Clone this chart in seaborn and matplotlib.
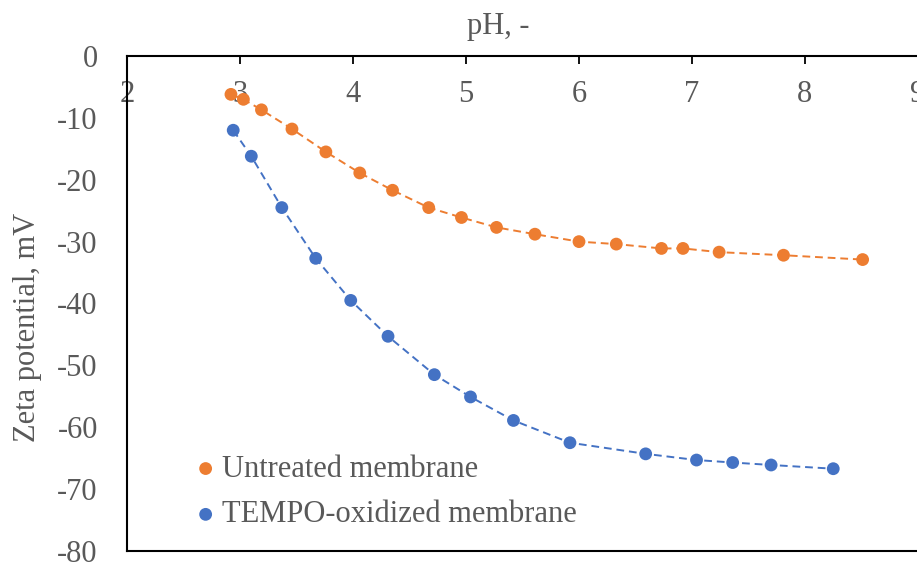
import matplotlib
matplotlib.use("Agg")
import matplotlib.pyplot as plt
import seaborn as sns
import pandas as pd

# Data
ph_untreated = [2.92, 3.03, 3.19, 3.46, 3.76, 4.06, 4.35, 4.67, 4.96, 5.27, 5.61,
                6.00, 6.33, 6.73, 6.92, 7.24, 7.81, 8.51]
zeta_untreated = [-6.2, -7.0, -8.7, -11.8, -15.5, -18.9, -21.7, -24.5, -26.1, -27.7,
                  -28.8, -30.0, -30.4, -31.1, -31.1, -31.7, -32.2, -32.9]
ph_tempo = [2.94, 3.10, 3.37, 3.67, 3.98, 4.31, 4.72, 5.04, 5.42, 5.92, 6.59,
            7.04, 7.36, 7.70, 8.25]
zeta_tempo = [-12.0, -16.2, -24.5, -32.7, -39.5, -45.3, -51.5, -55.1, -58.9, -62.5,
              -64.3, -65.3, -65.7, -66.1, -66.7]
series_names = ["Untreated membrane", "TEMPO-oxidized membrane"]
x_ticks = [2, 3, 4, 5, 6, 7, 8, 9]
y_ticks = [0, -10, -20, -30, -40, -50, -60, -70, -80]

sns.set_style("white")
plt.rcParams['font.family'] = ['Liberation Serif', 'DejaVu Serif']

orange = "#ED7D31"
blue = "#4472C4"
grey = "#595959"
FS = 22

fig = plt.figure(figsize=(9.17, 5.63), dpi=100)
ax = fig.add_axes([127/917, 1 - 551/563, (918 - 127)/917, (551 - 56)/563])

df_u = pd.DataFrame({"pH": ph_untreated, "zeta": zeta_untreated})
df_t = pd.DataFrame({"pH": ph_tempo, "zeta": zeta_tempo})

for df, col in [(df_u, orange), (df_t, blue)]:
    sns.lineplot(data=df, x="pH", y="zeta", ax=ax, color=col, sort=False,
                 estimator=None, linestyle=(0, (4, 2.5)), linewidth=1.4,
                 legend=False)
sns.scatterplot(data=df_u, x="pH", y="zeta", ax=ax, color=orange, s=85,
                edgecolor="none", label=series_names[0], zorder=3)
sns.scatterplot(data=df_t, x="pH", y="zeta", ax=ax, color=blue, s=85,
                edgecolor="none", label=series_names[1], zorder=3)

ax.set_xlim(2, 9)
ax.set_ylim(-80, 0)
ax.set_xticks(x_ticks)
ax.set_yticks(y_ticks)
ax.set_yticklabels([str(v) for v in y_ticks])

ax.xaxis.tick_top()
ax.xaxis.set_label_position("top")
ax.tick_params(axis="x", direction="in", length=6, width=1.3, color="black",
               labelsize=FS, labelcolor=grey, pad=-38)
ax.tick_params(axis="y", direction="in", length=6, width=1.3, color="black",
               labelsize=FS, labelcolor=grey, pad=21)

for side in ["left", "top", "bottom"]:
    ax.spines[side].set_visible(True)
    ax.spines[side].set_color("black")
    ax.spines[side].set_linewidth(1.5)
ax.spines["right"].set_visible(False)

ax.set_xlabel("pH, -", fontsize=FS, color=grey)
ax.xaxis.set_label_coords((498 - 127)/791, 1 + 22/495)
ax.set_ylabel("Zeta potential, mV", fontsize=FS, color=grey)
ax.yaxis.set_label_coords((42 - 127)/791, (551 - 327)/495)

leg = ax.legend(loc="lower left", bbox_to_anchor=(0.055, 0.019), frameon=False,
                fontsize=FS, handletextpad=-0.2, labelspacing=0.55,
                handlelength=1.5, markerscale=1.0, borderaxespad=0)
for t in leg.get_texts():
    t.set_color(grey)

fig.savefig("out.png", dpi=100)
